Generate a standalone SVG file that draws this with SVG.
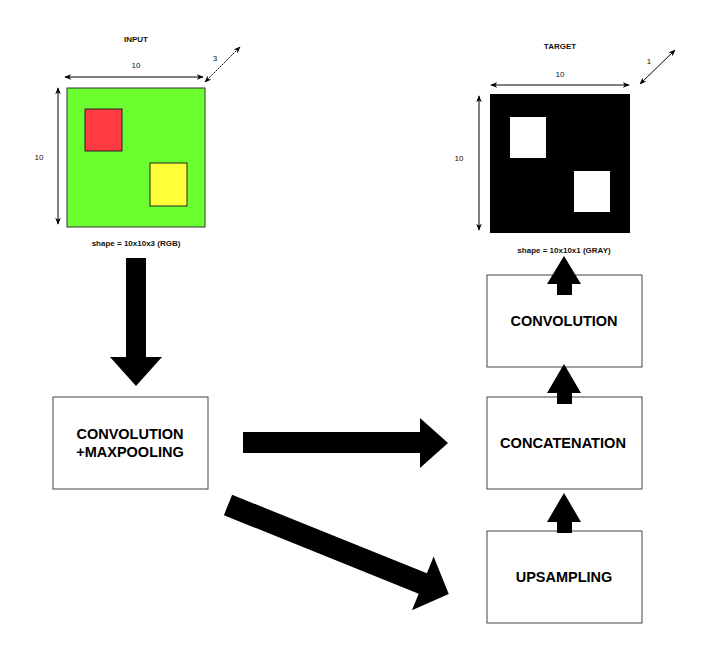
<svg xmlns="http://www.w3.org/2000/svg" width="719" height="656" viewBox="0 0 719 656">
<defs>
<style>
.lbl{font-family:"Liberation Sans",Arial,sans-serif;font-size:8px;fill:#111;text-anchor:middle}
.ttl{font-family:"Liberation Sans",Arial,sans-serif;font-size:8px;font-weight:bold;fill:#111;text-anchor:middle}
.node{fill:#fff;stroke:#444;stroke-width:1}
.ntxt{font-family:"Liberation Sans",Arial,sans-serif;font-size:14.5px;font-weight:bold;fill:#000;text-anchor:middle}
.dim{stroke:#000;stroke-width:1;fill:none}
.big{fill:#000;stroke:none}
</style>
<marker id="ah" viewBox="0 0 10 10" refX="9" refY="5" markerWidth="7" markerHeight="7" orient="auto-start-reverse" markerUnits="userSpaceOnUse">
<path d="M0,1 L10,5 L0,9 L3,5 Z" fill="#000"/>
</marker>
</defs>
<rect width="719" height="656" fill="#fff"/>

<g id="input">
<text class="ttl" x="136" y="42">INPUT</text>
<rect x="67" y="88" width="138" height="139" fill="#6cff30" stroke="#333" stroke-width="1"/>
<rect x="85" y="109" width="37" height="42" fill="#ff3a40" stroke="#222" stroke-width="1"/>
<rect x="150" y="163" width="37" height="43" fill="#ffff38" stroke="#222" stroke-width="1"/>
<line class="dim" x1="65" y1="77" x2="203" y2="77" marker-start="url(#ah)" marker-end="url(#ah)"/>
<text class="lbl" x="136" y="68">10</text>
<line class="dim" x1="58" y1="88" x2="58" y2="224" marker-start="url(#ah)" marker-end="url(#ah)"/>
<text class="lbl" x="39" y="160">10</text>
<line class="dim" x1="205" y1="82" x2="240" y2="47" stroke-dasharray="2 1" marker-start="url(#ah)" marker-end="url(#ah)"/>
<text class="lbl" x="215" y="61">3</text>
<text class="ttl" x="136" y="246">shape = 10x10x3 (RGB)</text>
</g>

<g id="target">
<text class="ttl" x="560" y="49">TARGET</text>
<rect x="490" y="94" width="140" height="139" fill="#000"/>
<rect x="510" y="117" width="36" height="41" fill="#fff"/>
<rect x="574" y="171" width="36" height="41" fill="#fff"/>
<line class="dim" x1="491" y1="85" x2="629" y2="85" marker-start="url(#ah)" marker-end="url(#ah)"/>
<text class="lbl" x="560" y="77">10</text>
<line class="dim" x1="479" y1="96" x2="479" y2="230" stroke="#555" marker-start="url(#ah)" marker-end="url(#ah)"/>
<text class="lbl" x="459" y="161">10</text>
<line class="dim" x1="640" y1="84" x2="675" y2="50" marker-start="url(#ah)" marker-end="url(#ah)"/>
<text class="lbl" x="649" y="64">1</text>
<text class="ttl" x="564" y="253">shape = 10x10x1 (GRAY)</text>
</g>

<g id="conv-maxpool">
<rect class="node" x="53" y="397" width="155" height="92"/>
<text class="ntxt" x="130" y="439">CONVOLUTION</text>
<text class="ntxt" x="130" y="457">+MAXPOOLING</text>
</g>

<g id="convolution">
<rect class="node" x="487" y="275" width="155" height="92"/>
<text class="ntxt" x="564" y="326">CONVOLUTION</text>
</g>

<g id="concatenation">
<rect class="node" x="487" y="397" width="155" height="92"/>
<text class="ntxt" x="563" y="448" textLength="126" lengthAdjust="spacingAndGlyphs">CONCATENATION</text>
</g>

<g id="upsampling">
<rect class="node" x="487" y="531" width="155" height="92"/>
<text class="ntxt" x="564" y="582">UPSAMPLING</text>
</g>

<g id="connectors">
<polygon class="big" points="126,258 146,258 146,357 162,357 136,386 110,357 126,357"/>
<polygon class="big" points="243,432 420,432 420,418 448,443 420,468 420,453 243,453"/>
<polygon class="big" transform="translate(228,505) rotate(21.94)" points="0,-11 210,-11 210,-29 238,0 210,29 210,11 0,11"/>
<polygon class="big" points="557,295 557,284 547,284 564,256 581,284 572,284 572,295"/>
<polygon class="big" points="557,404 557,393 547,393 564,364 581,393 572,393 572,404"/>
<polygon class="big" points="557,533 557,522 547,522 564,493 581,522 572,522 572,533"/>
</g>
</svg>
